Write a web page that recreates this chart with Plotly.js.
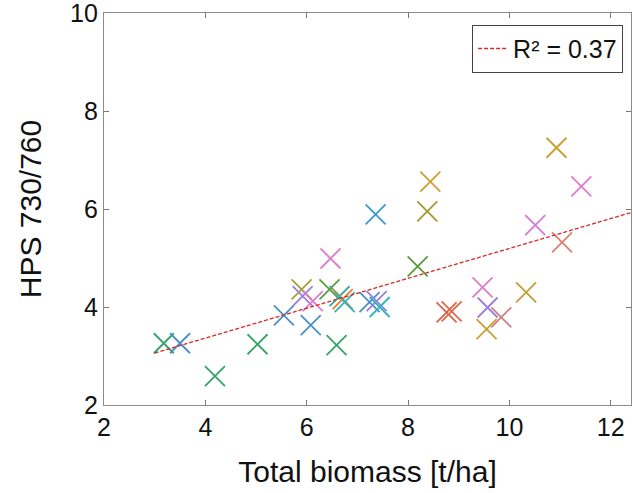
<!DOCTYPE html>
<html>
<head>
<meta charset="utf-8">
<script src="https://cdn.plot.ly/plotly-3.0.1.min.js"></script>
<style>html,body{margin:0;padding:0;background:#fff;}#chart{width:633px;height:493px;}</style>
</head>
<body>
<div id="chart"></div>
<script>
// Total biomass [t/ha]
const biomass = [3.18, 3.50, 4.19, 5.03, 5.55, 6.08, 6.59, 6.47, 7.36,
  5.90, 5.92, 6.12, 6.45, 6.65, 6.71, 6.75, 7.24, 7.38, 7.44,
  8.44, 8.38, 8.19, 10.93, 11.42, 10.51, 11.04, 9.47, 9.57, 9.84, 9.55, 10.33, 8.76, 8.86];
// HPS 730/760
const hps = [3.26, 3.26, 2.59, 3.24, 3.83, 3.63, 3.22, 4.99, 5.89,
  4.36, 4.22, 4.12, 4.36, 4.22, 4.16, 4.10, 4.10, 4.12, 4.00,
  6.56, 5.95, 4.83, 7.25, 6.46, 5.67, 5.32, 4.40, 3.99, 3.79, 3.55, 4.30, 3.89, 3.91];
const pointColors = ['#33a36b', '#4a90c8', '#33a36b', '#33a36b', '#4a90c8', '#4a90c8', '#33a36b', '#e07ccc', '#3a9ad0',
  '#a4a038', '#9a80dc', '#e07ccc', '#5aa040', '#33a890', '#e08030', '#2fb4c0', '#4a90c8', '#9a80dc', '#2fb4c0',
  '#c8a030', '#a49a30', '#5a9a3a', '#c8a030', '#e07ccc', '#d878d8', '#d88070', '#e07ccc', '#9a80dc', '#d08080', '#c8a030', '#c0a030', '#e0604a', '#e06a4a'];
// Linear fit shown in the legend
const fitSlope = 0.305;
const fitIntercept = 2.145;
const fitRange = [3.0, 12.4];
const fitLabel = 'R² = 0.37';
const xTicks = [2, 4, 6, 8, 10, 12];
const yTicks = [2, 4, 6, 8, 10];

const fitX = fitRange;
const fitY = fitRange.map(v => fitIntercept + fitSlope * v);

const traces = [
  {
    x: biomass, y: hps, type: 'scatter', mode: 'markers', showlegend: false,
    marker: {symbol: 'x-thin', size: 20, line: {width: 1.8, color: pointColors}, color: pointColors}
  },
  {
    x: fitX, y: fitY, type: 'scatter', mode: 'lines', name: fitLabel,
    line: {color: '#d82828', width: 1.3, dash: '4px,2px'}
  }
];

const fam = 'Arial, "Liberation Sans", sans-serif';
const tickFont = {family: fam, size: 25, color: '#111'};
const titleFont = {family: fam, size: 30, color: '#111'};
const layout = {
  width: 633, height: 493,
  margin: {l: 104, r: 2, t: 13, b: 88},
  paper_bgcolor: '#fff', plot_bgcolor: '#fff',
  font: tickFont,
  xaxis: {
    range: [2, 12.4], tickvals: xTicks, ticks: 'inside', ticklen: 5, tickcolor: '#777',
    showline: true, linecolor: '#8c8c8c', linewidth: 1.2, mirror: 'ticks', showgrid: false, zeroline: false,
    tickfont: tickFont, ticklabeloverflow: 'allow',
    title: {text: 'Total biomass [t/ha]', font: titleFont, standoff: 20}
  },
  yaxis: {
    range: [2, 10], tickvals: yTicks, ticks: 'inside', ticklen: 5, tickcolor: '#777',
    showline: true, linecolor: '#8c8c8c', linewidth: 1.2, mirror: 'ticks', showgrid: false, zeroline: false,
    tickfont: tickFont, ticklabeloverflow: 'allow',
    title: {text: 'HPS 730/760', font: titleFont, standoff: 19}
  },
  legend: {
    x: 0.985, y: 0.97, xanchor: 'right', yanchor: 'top',
    bgcolor: '#fff', bordercolor: '#444', borderwidth: 1,
    font: {family: fam, size: 25, color: '#111'},
    itemwidth: 30, tracegroupgap: 0
  }
};

Plotly.newPlot('chart', traces, layout, {displayModeBar: false, staticPlot: true});
</script>
</body>
</html>
